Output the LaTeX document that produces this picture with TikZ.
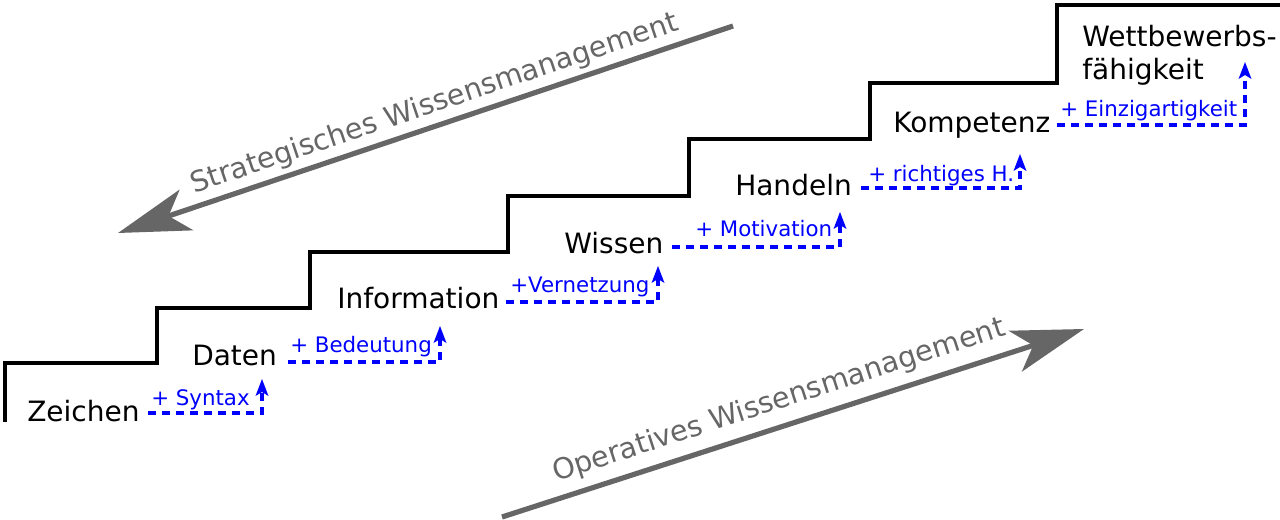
\documentclass[tikz,border=0pt]{standalone}
\usepackage{fontspec}
\setmainfont{DejaVu Sans}
\usetikzlibrary{arrows.meta}
\definecolor{arrowgray}{RGB}{102,102,102}
\definecolor{stepblue}{RGB}{0,0,255}
\tikzset{
  stairline/.style={line width=3.4pt, line join=miter, black},
  levellabel/.style={anchor=base west, inner sep=0pt, font=\fontsize{21}{25}\selectfont},
  gainlabel/.style={anchor=base west, inner sep=0pt, text=stepblue, font=\fontsize{16}{19}\selectfont},
  gainline/.style={draw=stepblue, line width=2.3pt, dash pattern=on 6pt off 4.5pt, shorten >=9pt},
  gainhead/.style={fill=stepblue},
  bigarrow/.style={draw=arrowgray, line width=3.9pt,
    -{Stealth[length=54pt,width=32pt,inset=14pt,fill=arrowgray]}},
  arrowtext/.style={text=arrowgray, inner sep=0pt, font=\fontsize{21.5}{25}\selectfont, rotate=18.6}
}
\begin{document}
\begin{tikzpicture}[x=0.75pt,y=-0.75pt]
\useasboundingbox (0,0) rectangle (1280,520);

% staircase
\draw[stairline] (5,422) -- (5,363) -- (157,363) -- (157,308) -- (310,308) -- (310,252)
  -- (508,252) -- (508,196) -- (689,196) -- (689,139) -- (870,139) -- (870,83)
  -- (1057,83) -- (1057,5) -- (1282,5);

% level labels
\node[levellabel] (zeichen) at (27,421) {Zeichen};
\node[levellabel] (daten) at (192,365) {Daten};
\node[levellabel] (information) at (337,308) {Information};
\node[levellabel] (wissen) at (564,253) {Wissen};
\node[levellabel] (handeln) at (735,196) {Handeln};
\node[levellabel] (kompetenz) at (893,133) {Kompetenz};
\node[levellabel, align=left, font=\fontsize{21}{24.75}\selectfont] (wettbewerb) at (1082,80) {Wettbewerbs-\\fähigkeit};

% gain labels
\node[gainlabel] (syntax) at (151,405) {+ Syntax};
\node[gainlabel] (bedeutung) at (290,352) {+ Bedeutung};
\node[gainlabel] (vernetzung) at (510,292) {+Vernetzung};
\node[gainlabel] (motivation) at (695,237) {+ Motivation};
\node[gainlabel] (richtig) at (868,182) {+ richtiges H.};
\node[gainlabel] (einzig) at (1060,117) {+ Einzigartigkeit};

% gain arrow endpoints
\coordinate (g1s) at (148,413); \coordinate (g1e) at (262,379);
\coordinate (g2s) at (288,362); \coordinate (g2e) at (440,326);
\coordinate (g3s) at (506,302); \coordinate (g3e) at (658,266);
\coordinate (g4s) at (672,247); \coordinate (g4e) at (840,212);
\coordinate (g5s) at (861,188); \coordinate (g5e) at (1020,154);
\coordinate (g6s) at (1057,125); \coordinate (g6e) at (1245,62);
\foreach \i in {1,...,6}{
  \draw[gainline] (g\i s) -| (g\i e);
  \fill[gainhead] (g\i e) -- ++(6.5,17) -- ++(-6.5,-4) -- ++(-6.5,4) -- cycle;
}

% management arrows
\coordinate (stratstart) at (733,26); \coordinate (stratend) at (118,233);
\coordinate (opstart) at (502,517); \coordinate (opend) at (1084,329);
\draw[bigarrow] (stratstart) -- (stratend);
\draw[bigarrow] (opstart) -- (opend);
\node[arrowtext] (strattext) at (435,104) {Strategisches Wissensmanagement};
\node[arrowtext, rotate=-0.6] (optext) at (779,401) {Operatives Wissensmanagement};
\end{tikzpicture}
\end{document}
